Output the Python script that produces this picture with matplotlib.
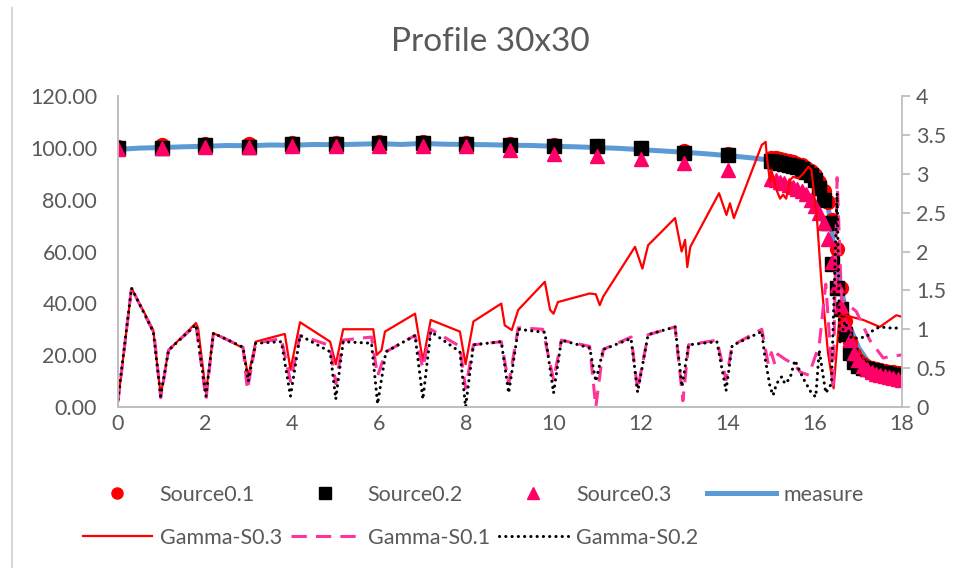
import numpy as np
import matplotlib
matplotlib.use("Agg")
import matplotlib.pyplot as plt
from matplotlib.lines import Line2D
from matplotlib.ticker import FuncFormatter, MultipleLocator

# ---- data ----

# source markers: integer depths 0..14, then dense 15.0..18.0 step 0.1
src_x = [0, 1, 2, 3, 4, 5, 6, 7, 8, 9, 10, 11, 12, 13, 14,
         15.0, 15.1, 15.2, 15.3, 15.4, 15.5, 15.6, 15.7, 15.8, 15.9,
         16.0, 16.1, 16.2, 16.3, 16.4, 16.5, 16.6, 16.7, 16.8, 16.9,
         17.0, 17.1, 17.2, 17.3, 17.4, 17.5, 17.6, 17.7, 17.8, 17.9, 18.0]

source01 = [100.4, 101.0, 101.3, 101.6, 101.8, 101.8, 102.3, 102.2, 101.8, 101.6, 101.2, 100.9, 100.1, 98.8, 97.6,
            96.2, 95.9, 95.6, 95.3, 94.9, 94.4, 93.9, 93.2, 92.4, 91.2,
            89.5, 87.0, 83.5, 79.0, 72.0, 61.0, 46.0, 33.0, 25.0, 20.5,
            18.0, 16.5, 15.6, 15.0, 14.5, 14.1, 13.8, 13.6, 13.4, 13.3, 13.2]

source02 = [100.0, 100.0, 101.1, 100.4, 101.3, 101.3, 102.0, 101.7, 101.5, 101.1, 100.8, 100.6, 99.8, 98.1, 97.2,
            95.0, 94.6, 94.3, 93.9, 93.5, 93.0, 92.5, 91.8, 90.8, 89.5,
            87.5, 84.5, 80.0, 71.0, 55.0, 46.0, 38.0, 28.0, 21.0, 17.5,
            16.0, 15.2, 14.6, 14.1, 13.7, 13.3, 13.0, 12.7, 12.4, 12.2, 12.0]

source03 = [99.6, 99.8, 100.2, 100.3, 100.6, 100.6, 100.8, 100.6, 100.6, 99.2, 97.6, 96.8, 95.5, 94.0, 91.5,
            88.0, 87.5, 87.0, 86.3, 85.6, 85.0, 84.2, 83.2, 82.0, 80.0,
            77.5, 75.0, 71.0, 65.0, 56.0, 47.0, 39.0, 32.0, 26.0, 21.0,
            18.0, 16.0, 14.6, 13.6, 12.9, 12.3, 11.8, 11.4, 11.0, 10.7, 10.4]

measure_x = [0, 0.5, 1, 1.5, 2, 2.5, 3, 3.5, 4, 4.5, 5, 5.5, 6, 6.5, 7, 7.5, 8, 8.5, 9, 9.5,
             10, 10.5, 11, 11.5, 12, 12.5, 13, 13.5, 14, 14.5, 15, 15.2, 15.4, 15.6, 15.8,
             16.0, 16.1, 16.2, 16.3, 16.4, 16.5, 16.6, 16.7, 16.8, 16.9, 17.0, 17.2, 17.4, 17.6, 17.8, 18.0]
measure_y = [99.4, 99.9, 100.1, 100.4, 100.6, 100.9, 100.8, 101.1, 101.0, 101.3, 101.2, 101.4, 101.6, 101.3, 101.7, 101.4,
             101.3, 101.2, 101.0, 100.9, 100.6, 100.4, 100.1, 99.8, 99.3, 98.8, 98.3, 97.7, 97.0, 96.2, 95.2, 94.8,
             94.2, 93.5, 92.3, 90.5, 88.6, 85.5, 78.0, 66.0, 55.0, 46.0, 38.0, 31.0, 27.0, 23.0, 18.0, 15.5, 14.0, 12.9, 12.0]

# gamma curves (secondary axis)
g03_x = [0.0, 0.31, 0.81, 0.98, 1.16, 1.79, 1.84, 2.02, 2.19, 2.87, 2.99, 3.16, 3.83, 3.96, 4.18, 4.87, 5.0,
         5.17, 5.86, 5.94, 6.05, 6.13, 6.82, 7.0, 7.18, 7.85, 7.98, 8.16, 8.8, 8.88, 9.04, 9.19, 9.8, 9.92,
         10.0, 10.1, 10.83, 10.97, 11.06, 11.14, 11.87, 12.04, 12.17, 12.79, 12.94, 13.02, 13.07, 13.14,
         13.8, 13.97, 14.05, 14.14, 14.78, 14.87, 14.9, 14.97, 15.0, 15.12, 15.2, 15.27, 15.34, 15.43, 15.5,
         15.62, 15.73, 15.85, 15.92, 16.05, 16.15, 16.3, 16.43, 16.57, 16.69, 17.11, 17.49, 17.87, 18.0]
g03_y = [0.07, 1.53, 0.99, 0.15, 0.73, 1.08, 1.01, 0.18, 0.95, 0.76, 0.39, 0.84, 0.94, 0.48, 1.09, 0.84, 0.55,
         1.0, 1.0, 0.67, 0.73, 0.97, 1.2, 0.59, 1.12, 0.97, 0.55, 1.10, 1.33, 1.05, 0.99, 1.25, 1.61, 1.25,
         1.2, 1.35, 1.46, 1.45, 1.31, 1.42, 2.06, 1.78, 2.08, 2.43, 2.0, 2.15, 1.8, 2.06,
         2.75, 2.47, 2.62, 2.43, 3.37, 3.41, 3.2, 2.9, 3.05, 2.79, 2.68, 2.73, 2.68, 2.92, 2.96,
         2.94, 3.0, 3.09, 3.05, 2.4, 1.6, 0.7, 0.24, 1.20, 1.18, 1.12, 1.03, 1.18, 1.16]

g01_x = [0.0, 0.31, 0.78, 0.83, 0.98, 1.16, 1.79, 2.02, 2.19, 2.87, 2.97, 3.16, 3.75, 3.96, 4.18, 4.87, 5.0,
         5.17, 5.82, 5.96, 6.15, 6.82, 7.0, 7.18, 7.85, 7.98, 8.16, 8.8, 8.97, 9.19, 9.75, 10.0, 10.18,
         10.83, 10.97, 11.14, 11.78, 11.93, 12.17, 12.79, 12.97, 13.1, 13.75, 13.96, 14.1, 14.78, 14.93,
         15.0, 15.08, 15.15, 15.3, 15.54, 15.66, 15.86, 16.1, 16.25, 16.42, 16.51, 16.61, 16.95, 17.26,
         17.57, 17.72, 18.0]
g01_y = [0.07, 1.53, 1.0, 0.93, 0.12, 0.73, 1.06, 0.10, 0.95, 0.77, 0.22, 0.82, 0.88, 0.33, 0.92, 0.79, 0.30,
         0.86, 0.90, 0.40, 0.71, 0.92, 0.50, 1.0, 0.78, 0.24, 0.80, 0.84, 0.30, 1.02, 1.0, 0.35, 0.86,
         0.78, 0.0, 0.74, 0.90, 0.22, 0.93, 1.03, 0.08, 0.80, 0.86, 0.35, 0.79, 1.0, 0.55,
         0.70, 0.55, 0.68, 0.62, 0.54, 0.45, 0.41, 0.80, 1.58, 0.22, 2.95, 1.38, 1.23, 0.86,
         0.63, 0.65, 0.67]

g02_x = [0.0, 0.31, 0.81, 0.98, 1.16, 1.79, 2.02, 2.19, 2.87, 2.99, 3.16, 3.75, 3.96, 4.18, 4.87, 5.0, 5.17,
         5.82, 5.96, 6.15, 6.82, 7.0, 7.18, 7.85, 7.98, 8.16, 8.8, 8.97, 9.19, 9.8, 10.0, 10.18, 10.83,
         10.97, 11.14, 11.78, 11.93, 12.17, 12.79, 12.95, 13.1, 13.75, 13.96, 14.1, 14.78, 14.85, 14.97,
         15.04, 15.12, 15.24, 15.31, 15.43, 15.54, 15.73, 15.92, 16.02, 16.1, 16.25, 16.38, 16.51, 16.57,
         16.69, 16.84, 17.18, 17.34, 17.49, 17.84, 18.0]
g02_y = [0.1, 1.53, 0.97, 0.14, 0.73, 1.06, 0.14, 0.95, 0.77, 0.33, 0.82, 0.84, 0.14, 0.92, 0.71, 0.10, 0.84,
         0.82, 0.04, 0.71, 0.92, 0.10, 0.97, 0.71, 0.0, 0.80, 0.84, 0.18, 1.0, 0.96, 0.18, 0.86, 0.76,
         0.33, 0.74, 0.88, 0.19, 0.93, 1.03, 0.26, 0.80, 0.84, 0.21, 0.79, 0.97, 0.65, 0.26,
         0.15, 0.30, 0.39, 0.30, 0.37, 0.60, 0.37, 0.18, 0.13, 0.73, 0.18, 0.30, 2.75, 0.82,
         1.10, 0.88, 0.90, 0.99, 1.03, 1.01, 1.04]

# ---- style ----
GREY = "#595959"
AXLINE = "#BFBFBF"
plt.rcParams["font.family"] = ["Lato", "DejaVu Sans"]

fig = plt.figure(figsize=(9.6, 5.68), dpi=100)
ax = fig.add_axes([118 / 960, 161 / 568, 784 / 960, 311 / 568])
ax2 = ax.twinx()

# primary axis: measure + sources
ax.plot(measure_x, measure_y, color="#5B9BD5", lw=3.6, zorder=1, label="measure")
ax.plot(src_x, source01, ls="none", marker="o", ms=10, color="#FF0000", zorder=2, label="Source0.1")
ax.plot(src_x, source02, ls="none", marker="s", ms=10, color="#000000", zorder=3, label="Source0.2")
ax.plot(src_x, source03, ls="none", marker="^", ms=10, color="#FF0066", zorder=4, label="Source0.3")

# secondary axis: gamma
ax2.plot(g03_x, g03_y, color="#FF0000", lw=1.6, label="Gamma-S0.3")
ax2.plot(g01_x, g01_y, color="#FF3399", lw=2.2, dashes=(5, 3), label="Gamma-S0.1")
ax2.plot(g02_x, g02_y, color="#000000", lw=2.2, ls=(0, (0.05, 2)), dash_capstyle="round",
         label="Gamma-S0.2")

ax.set_xlim(0, 18)
ax.set_ylim(0, 120)
ax2.set_ylim(0, 4)
ax.xaxis.set_major_locator(MultipleLocator(2))
ax.yaxis.set_major_locator(MultipleLocator(20))
ax2.yaxis.set_major_locator(MultipleLocator(0.5))
ax.yaxis.set_major_formatter(FuncFormatter(lambda v, p: f"{v:.2f}"))
ax2.yaxis.set_major_formatter(FuncFormatter(lambda v, p: f"{v:g}"))

for a in (ax, ax2):
    for s in a.spines.values():
        s.set_color(AXLINE)
        s.set_linewidth(1.3)
    a.spines["top"].set_visible(False)
ax.spines["right"].set_visible(False)

ax.tick_params(axis="x", length=0, pad=5, labelsize=15.5, labelcolor=GREY)
ax.tick_params(axis="y", length=0, pad=15, labelsize=15.5, labelcolor=GREY)
ax2.tick_params(axis="y", length=6, width=1.3, color=AXLINE, pad=4, labelsize=15.5, labelcolor=GREY)

fig.text(490 / 960, 1 - 42 / 568, "Profile 30x30", ha="center", va="center", fontsize=24, color=GREY)

# chart-area border remnant on the left
fig.add_artist(Line2D([12 / 960, 12 / 960], [0, 1 - 8 / 568], color="#D9D9D9", lw=1.5))

# legend: row 1 sources + measure, row 2 gamma curves
h1, l1 = ax.get_legend_handles_labels()
h2, l2 = ax2.get_legend_handles_labels()
hd = dict(zip(l1 + l2, h1 + h2))
order = ["Source0.1", "Gamma-S0.3", "Source0.2", "Gamma-S0.1", "Source0.3", "Gamma-S0.2", "measure"]
fig.legend([hd[k] for k in order], order, loc="upper left", bbox_to_anchor=(72 / 960, 1 - 474 / 568),
           ncol=4, frameon=False, fontsize=15.5, labelcolor=GREY, handlelength=3.2, handletextpad=0.37,
           columnspacing=0.42, labelspacing=1.08, markerscale=0.8, borderpad=0)

fig.savefig("out.png", dpi=100)
